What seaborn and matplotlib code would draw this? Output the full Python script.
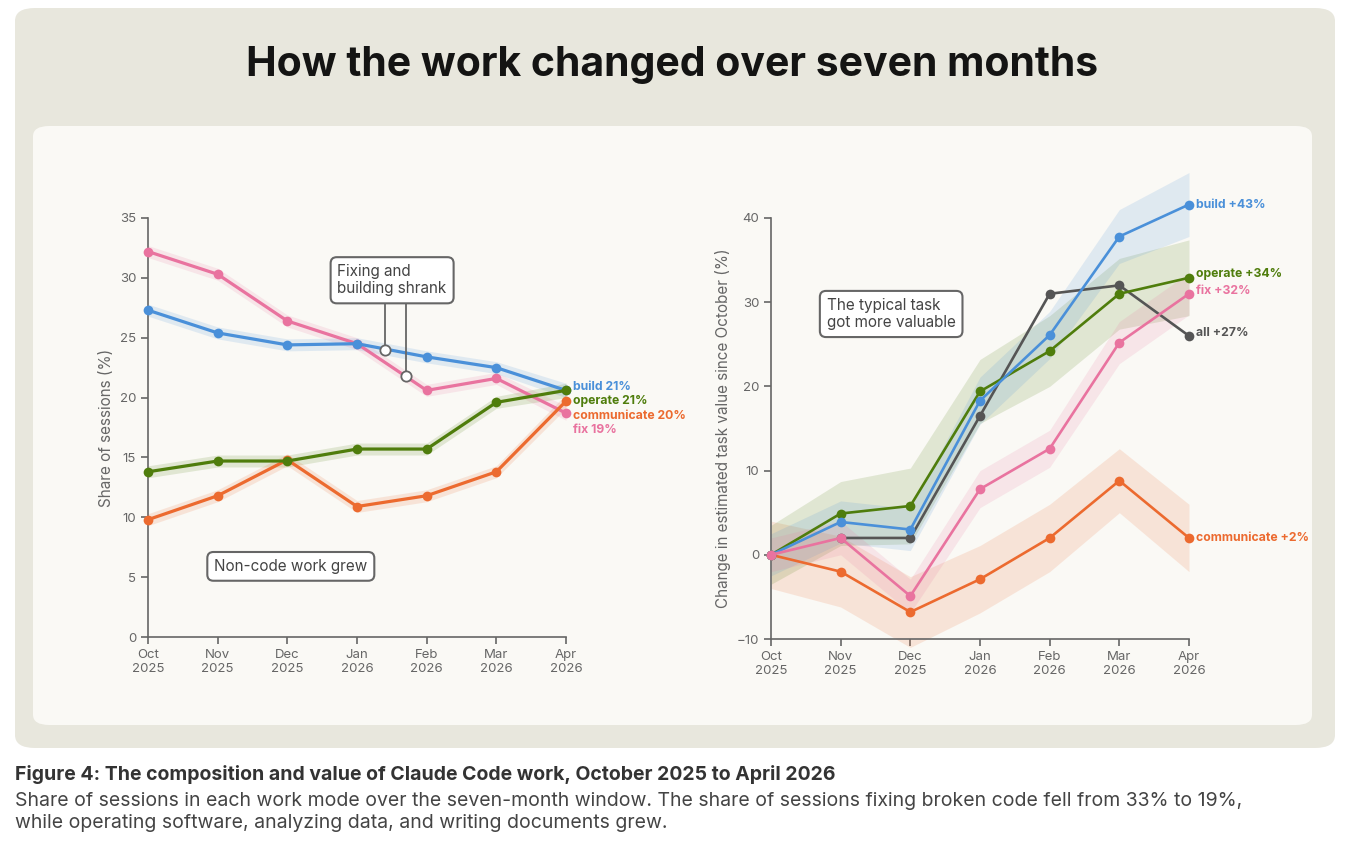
import matplotlib
matplotlib.use("Agg")
import matplotlib.pyplot as plt
import seaborn as sns
import pandas as pd
import numpy as np
from matplotlib.patches import FancyBboxPatch

sns.set_style("white")
plt.rcParams['font.family'] = ['Inter', 'DejaVu Sans']

months = ["Oct\n2025", "Nov\n2025", "Dec\n2025", "Jan\n2026", "Feb\n2026", "Mar\n2026", "Apr\n2026"]

share_fix = [32.2, 30.3, 26.4, 24.5, 20.6, 21.6, 18.7]
share_build = [27.3, 25.4, 24.4, 24.5, 23.4, 22.5, 20.6]
share_operate = [13.8, 14.7, 14.7, 15.7, 15.7, 19.6, 20.6]
share_communicate = [9.8, 11.8, 14.8, 10.9, 11.8, 13.8, 19.7]
share_band = [0.5, 0.5, 0.5, 0.5, 0.5, 0.5, 0.6]

val_build = [0, 3.9, 3.0, 18.3, 26.1, 37.8, 41.6]
val_build_band = [2.5, 2.5, 2.5, 2.8, 2.8, 3.2, 3.8]
val_operate = [0, 4.9, 5.8, 19.4, 24.2, 31.0, 32.9]
val_operate_band = [3.5, 3.8, 4.5, 3.8, 4.2, 4.2, 4.5]
val_fix = [0, 2.0, -4.9, 7.8, 12.6, 25.2, 31.0]
val_fix_band = [2.0, 2.0, 2.0, 2.2, 2.2, 2.5, 2.5]
val_communicate = [0, -2.0, -6.8, -2.9, 2.0, 8.8, 2.0]
val_communicate_band = [4.0, 4.2, 4.2, 4.0, 4.0, 3.8, 4.0]
val_all_x = [1, 2, 3, 4, 5, 6]
val_all = [2.0, 2.0, 16.5, 31.0, 32.0, 26.0]

C = {"build": "#4a90d9", "fix": "#e9739f", "operate": "#4f7d0c",
     "communicate": "#ec6a2f", "all": "#555555"}
GRAY = "#666666"

fig = plt.figure(figsize=(13.45, 8.61), dpi=100)
fig.patch.set_facecolor("white")
outer = FancyBboxPatch((15/1345, 1-748/861), 1320/1345, 740/861,
                       boxstyle="round,pad=0,rounding_size=0.015", transform=fig.transFigure,
                       facecolor="#e8e7dd", edgecolor="none", zorder=-2)
inner = FancyBboxPatch((33/1345, 1-725/861), 1279/1345, 599/861,
                       boxstyle="round,pad=0,rounding_size=0.012", transform=fig.transFigure,
                       facecolor="#faf9f5", edgecolor="none", zorder=-1)
fig.patches.extend([outer, inner])

fig.text(0.5, 1-65/861, "How the work changed over seven months", ha="center", va="center",
         fontsize=29.5, fontweight="bold", color="#141413")
fig.text(15/1345, 1-775/861, "Figure 4: The composition and value of Claude Code work, October 2025 to April 2026",
         ha="left", va="center", fontsize=14, fontweight="bold", color="#333333")
fig.text(15/1345, 1-812/861, "Share of sessions in each work mode over the seven-month window. The share of sessions fixing broken code fell from 33% to 19%,\nwhile operating software, analyzing data, and writing documents grew.",
         ha="left", va="center", fontsize=14, color="#444444", linespacing=1.35)

x = np.arange(7)

def style(ax):
    ax.set_facecolor("none")
    for s in ["top", "right"]:
        ax.spines[s].set_visible(False)
    for s in ["left", "bottom"]:
        ax.spines[s].set_color(GRAY)
        ax.spines[s].set_linewidth(1.2)
    ax.tick_params(colors=GRAY, labelsize=9.5, length=5, width=1.2, direction="out", left=True, bottom=True)
    ax.set_xticks(x)
    ax.set_xticklabels(months, color=GRAY)
    ax.set_xlim(0, 6)

def draw(ax, vals, band, col, xs=None, z=3, lw=2.3):
    xs = x if xs is None else np.array(xs)
    vals = np.array(vals)
    if band is not None:
        ax.fill_between(xs, vals - np.array(band), vals + np.array(band), color=col, alpha=0.15, lw=0,
                        zorder=1, clip_on=False)
    df = pd.DataFrame({"x": xs, "y": vals})
    sns.lineplot(data=df, x="x", y="y", ax=ax, color=col, lw=lw, marker="o", markersize=7,
                 markeredgewidth=0, zorder=z, clip_on=False)

# Left chart
ax1 = fig.add_axes([148/1345, 1-637/861, 418/1345, 419/861])
style(ax1)
ax1.set_ylim(0, 35)
ax1.set_yticks(range(0, 36, 5))
draw(ax1, share_fix, share_band, C["fix"])
draw(ax1, share_build, share_band, C["build"])
draw(ax1, share_operate, share_band, C["operate"], z=4)
draw(ax1, share_communicate, share_band, C["communicate"])
ax1.set_xlabel("")
ax1.set_ylabel("Share of sessions (%)", color=GRAY, fontsize=11)
for lbl, yy, col in [("build 21%", 20.9, C["build"]), ("operate 21%", 19.7, C["operate"]),
                     ("communicate 20%", 18.5, C["communicate"]), ("fix 19%", 17.3, C["fix"])]:
    ax1.text(6.1, yy, lbl, color=col, fontsize=8.8, fontweight="bold", va="center", clip_on=False)
# annotation
ax1.plot([3.4, 3.4], [24.0, 27.8], color=GRAY, lw=1.3, zorder=5)
ax1.plot([3.7, 3.7], [21.8, 27.8], color=GRAY, lw=1.3, zorder=5)
ax1.scatter([3.4, 3.7], [24.0, 21.8], s=55, facecolor="white", edgecolor=GRAY, lw=1.3, zorder=6)
bbox = dict(boxstyle="round,pad=0.45,rounding_size=0.4", facecolor="white", edgecolor=GRAY, lw=1.5)
ax1.text(2.72, 29.8, "Fixing and\nbuilding shrank", fontsize=11, color="#444444", va="center", ha="left",
         bbox=bbox, zorder=7, linespacing=1.2)
ax1.text(0.95, 5.9, "Non-code work grew", fontsize=11, color="#444444", va="center", ha="left",
         bbox=bbox, zorder=7)

# Right chart
ax2 = fig.add_axes([771/1345, 1-639/861, 418/1345, 421/861])
style(ax2)
ax2.set_ylim(-10, 40)
ax2.set_yticks(range(-10, 41, 10))
draw(ax2, val_communicate, val_communicate_band, C["communicate"], lw=1.9)
draw(ax2, val_operate, val_operate_band, C["operate"], lw=1.9)
draw(ax2, val_build, val_build_band, C["build"], lw=1.9)
draw(ax2, val_fix, val_fix_band, C["fix"], lw=1.9)
draw(ax2, val_all, None, C["all"], xs=val_all_x, z=2, lw=1.9)
ax2.set_xlabel("")
ax2.set_ylabel("Change in estimated task value since October (%)", color=GRAY, fontsize=11)
for lbl, yy, col in [("build +43%", 41.6, C["build"]), ("operate +34%", 33.4, C["operate"]),
                     ("fix +32%", 31.3, C["fix"]), ("all +27%", 26.4, C["all"]),
                     ("communicate +2%", 2.0, C["communicate"])]:
    ax2.text(6.1, yy, lbl, color=col, fontsize=8.8, fontweight="bold", va="center", clip_on=False)
ax2.text(0.8, 28.6, "The typical task\ngot more valuable", fontsize=11, color="#444444", va="center",
         ha="left", bbox=bbox, zorder=7, linespacing=1.2)

fig.savefig("out.png", dpi=100)
